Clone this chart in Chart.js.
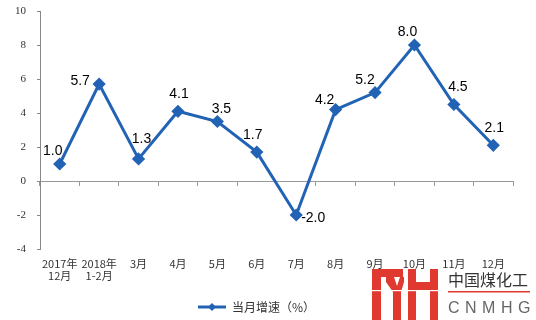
<!DOCTYPE html>
<html>
<head>
<meta charset="utf-8">
<script src="https://cdn.jsdelivr.net/npm/chart.js@4/dist/chart.umd.min.js"></script>
<style>
  html, body { margin: 0; padding: 0; background: #fff; }
  #wrap { position: relative; width: 536px; height: 320px; }
  #logo { position: absolute; left: 0; top: 0; pointer-events: none; }
</style>
</head>
<body>
<div id="wrap">
  <canvas id="chart" width="536" height="320"></canvas>
  <svg id="logo" width="536" height="320">
    <!-- watermark: red MH mark + name -->
    <g fill="#e03a30">
      <rect x="372" y="269" width="31" height="8"/>
      <rect x="372" y="269" width="9" height="51"/>
      <polygon points="386,277 394,277 397,286 400,277 404,277 404,282 401,292 401,320 393,320 393,292 386,282"/>
      <rect x="408" y="269" width="8" height="51"/>
      <rect x="430" y="269" width="8" height="51"/>
      <rect x="416" y="282" width="14" height="8"/>
    </g>
    <rect x="365" y="290" width="80" height="1.2" fill="#fff"/>
    <text x="448" y="286" font-family="Noto Sans CJK SC" font-size="16" fill="#333">中国煤化工</text>
    <rect x="448" y="291" width="82" height="1.5" fill="#e03a30"/>
    <text x="448" y="313" font-family="Liberation Sans" font-size="16" fill="#666" letter-spacing="5.5">CNMHG</text>
  </svg>
</div>
<script>
const labels = [['2017年', '12月'], ['2018年', '1-2月'], '3月', '4月', '5月', '6月', '7月', '8月', '9月', '10月', '11月', '12月'];
const growth = [1.0, 5.7, 1.3, 4.1, 3.5, 1.7, -2.0, 4.2, 5.2, 8.0, 4.5, 2.1];
const seriesName = '当月增速（%）';
const yTicks = [-4, -2, 0, 2, 4, 6, 8, 10];

// where each value label sits relative to its point (px)
const labelShift = [[-7, -13], [-19, -3], [3, -20], [1, -17], [4, -12], [-4, -17],
                    [17, 3], [-11, -9], [-10, -12], [-7, -13], [4, -17], [1, -17]];

const blue = '#2263b5';

// legend symbol: line with a diamond
const sym = document.createElement('canvas');
sym.width = 28; sym.height = 10;
(function () {
  const c = sym.getContext('2d');
  c.strokeStyle = blue; c.lineWidth = 3;
  c.beginPath(); c.moveTo(0, 5); c.lineTo(28, 5); c.stroke();
  c.fillStyle = blue;
  c.beginPath(); c.moveTo(14, 1); c.lineTo(18, 5); c.lineTo(14, 9); c.lineTo(10, 5); c.closePath(); c.fill();
})();

const valueLabels = {
  id: 'valueLabels',
  afterDatasetsDraw(chart) {
    const ctx = chart.ctx;
    const meta = chart.getDatasetMeta(0);
    ctx.save();
    ctx.font = '14px "Liberation Sans", Arial, sans-serif';
    ctx.fillStyle = '#000';
    ctx.textAlign = 'center';
    ctx.textBaseline = 'middle';
    meta.data.forEach((pt, i) => {
      const s = labelShift[i];
      ctx.fillText(growth[i].toFixed(1), pt.x + s[0], pt.y + s[1]);
    });
    ctx.restore();
  }
};

new Chart(document.getElementById('chart'), {
  type: 'line',
  data: {
    labels: labels,
    datasets: [{
      label: seriesName,
      data: growth,
      borderColor: blue,
      backgroundColor: blue,
      borderWidth: 3,
      pointStyle: 'rectRot',
      pointRadius: 4.5,
      pointHoverRadius: 4.5,
      tension: 0
    }]
  },
  options: {
    responsive: false,
    animation: false,
    layout: { padding: { left: 0, right: 23, top: 11, bottom: -3 } },
    plugins: {
      tooltip: { enabled: false },
      legend: {
        position: 'bottom',
        labels: {
          usePointStyle: true,
          pointStyleWidth: 28,
          color: '#333',
          font: { family: '"Noto Sans CJK SC"', size: 12 },
          generateLabels: (chart) => [{
            text: seriesName, pointStyle: sym, fontColor: '#333',
            lineWidth: 0, strokeStyle: 'transparent', fillStyle: 'transparent', datasetIndex: 0
          }]
        }
      }
    },
    scales: {
      x: {
        offset: true,
        grid: { display: false, drawTicks: false },
        border: { display: false },
        ticks: {
          color: '#333', padding: 9, maxRotation: 0, autoSkip: false,
          font: { family: '"Noto Sans CJK SC"', size: 11, lineHeight: 1.1 }
        },
        afterFit: (s) => { s.height = 42; }
      },
      x0: {
        type: 'category',
        labels: labels,
        position: { y: 0 },
        offset: true,
        grid: { drawOnChartArea: false, drawTicks: true, tickLength: 4, color: '#999', offset: true },
        border: { display: true, color: '#999', width: 1 },
        ticks: { display: false }
      },
      y: {
        min: -4, max: 10,
        afterBuildTicks: (s) => { s.ticks = yTicks.map(v => ({ value: v })); },
        grid: { drawOnChartArea: false, drawTicks: true, tickLength: 3, color: '#888' },
        border: { display: true, color: '#888', width: 1 },
        ticks: {
          color: '#333', padding: 11,
          font: { family: '"Liberation Serif", serif', size: 11 }
        },
        afterFit: (s) => { s.width = 40; s.paddingTop = 0; s.paddingBottom = 0; }
      }
    }
  },
  plugins: [valueLabels]
});
</script>
</body>
</html>
